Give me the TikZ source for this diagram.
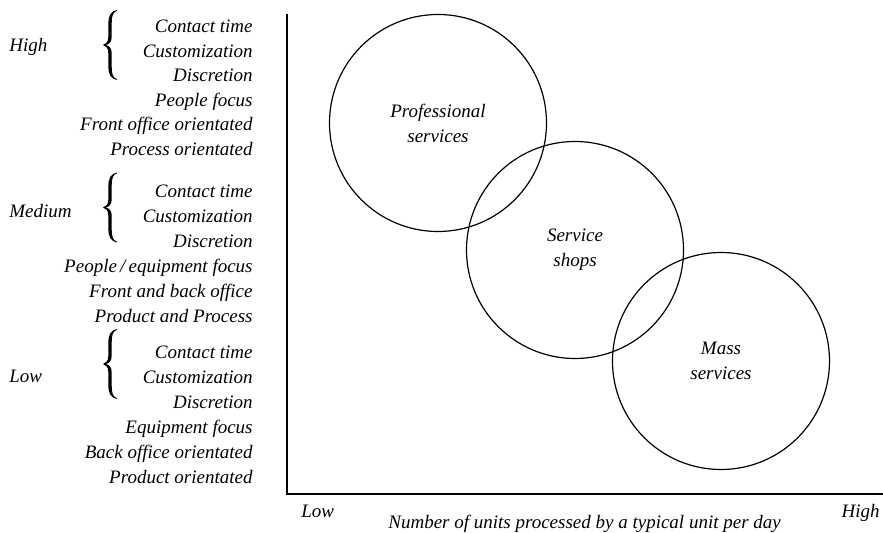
\documentclass[tikz,border=0pt]{standalone}
\usepackage{fontspec}
\setmainfont{Liberation Serif}
\begin{document}
\begin{tikzpicture}[x=0.5pt,y=-0.5pt,
  lbl/.style={font=\fontsize{9.5}{12.5}\selectfont\itshape, inner sep=0pt},
  item/.style={lbl, anchor=base east},
  grp/.style={lbl, anchor=base west},
  zone/.style={circle, draw, line width=0.6pt, minimum size=108.5pt,
    inner sep=0pt, align=center, lbl},
  axis/.style={line width=0.65pt},
  % a tall curly brace with tapered strokes, 70 units high, centred on its origin
  pics/gbrace/.style={code={
    \fill (7,-35) .. controls (1,-34) and (-1.7,-29) .. (-1.7,-22)
      -- (-1.7,-8) .. controls (-1.7,-3) and (-4,-1) .. (-7,0)
      .. controls (-4,1) and (-1.7,3) .. (-1.7,8)
      -- (-1.7,22) .. controls (-1.7,29) and (1,34) .. (7,35)
      -- (7,34.2) .. controls (3,33) and (1.7,29) .. (1.7,22)
      -- (1.7,8) .. controls (1.7,3) and (-1,0.7) .. (-4.2,0)
      .. controls (-1,-0.7) and (1.7,-3) .. (1.7,-8)
      -- (1.7,-22) .. controls (1.7,-29) and (3,-33) .. (7,-34.2) -- cycle;
  }}
]
\useasboundingbox (0,0) rectangle (883,533);

% axes
\coordinate (ytop) at (287,14);
\coordinate (orig) at (287,494);
\coordinate (xend) at (883,494);
\draw[axis] (ytop) -- (orig) -- (xend);

% service types
\node[zone] (prof) at (438,123) {Professional\\services};
\node[zone] (shop) at (575,250) {Service\\shops};
\node[zone] (mass) at (721,361) {Mass\\services};

% horizontal axis labels
\node[lbl, anchor=base west] (xlow) at (301,517) {Low};
\node[lbl, anchor=base east] (xhigh) at (880,517) {High};
\node[lbl, anchor=base west] (xtitle) at (388,529) {Number of units processed by a typical unit per day};

% high group
\node[grp] (ghigh) at (9,52) {High};
\pic (bhigh) at (110,45) {gbrace};
\node[item] (h1) at (253,33) {Contact time};
\node[item] (h2) at (253,57.5) {Customization};
\node[item] (h3) at (253,82) {Discretion};
\node[item] (h4) at (253,106.5) {People focus};
\node[item] (h5) at (253,131) {Front office orientated};
\node[item] (h6) at (253,155.5) {Process orientated};

% medium group
\node[grp] (gmed) at (9,218) {Medium};
\pic (bmed) at (110,207.5) {gbrace};
\node[item] (m1) at (253,198) {Contact time};
\node[item] (m2) at (253,223) {Customization};
\node[item] (m3) at (253,248) {Discretion};
\node[item] (m4) at (253,273) {People\,/\,equipment focus};
\node[item] (m5) at (253,298) {Front and back office};
\node[item] (m6) at (253,323) {Product and Process};

% low group
\node[grp] (glow) at (9,383) {Low};
\pic (blow) at (110,364) {gbrace};
\node[item] (l1) at (253,359) {Contact time};
\node[item] (l2) at (253,384) {Customization};
\node[item] (l3) at (253,409) {Discretion};
\node[item] (l4) at (253,434) {Equipment focus};
\node[item] (l5) at (253,459) {Back office orientated};
\node[item] (l6) at (253,484) {Product orientated};
\end{tikzpicture}
\end{document}
